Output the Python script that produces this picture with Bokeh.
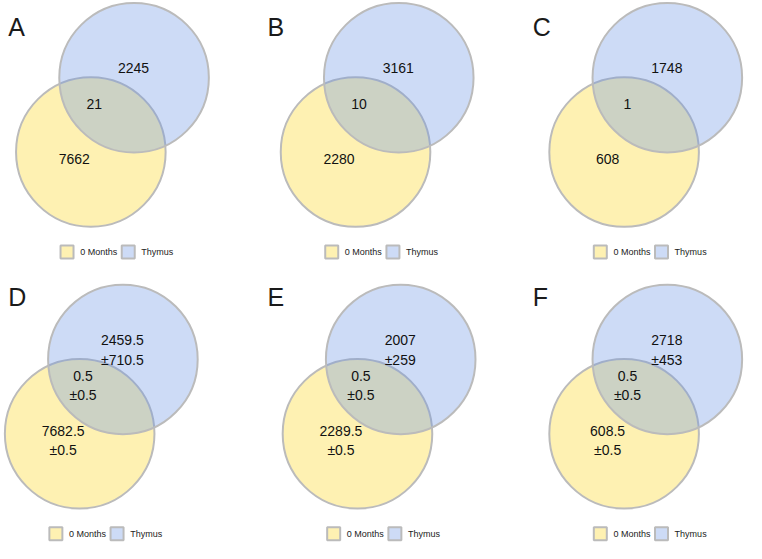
from bokeh.plotting import figure
from bokeh.models import Range1d
from bokeh.core.properties import value
from bokeh.embed import file_html
from bokeh.resources import INLINE

# ---- data ----
panel_letters = ["A", "B", "C", "D", "E", "F"]
set_names = ["0 Months", "Thymus"]
months_only = ["7662", "2280", "608", "7682.5", "2289.5", "608.5"]
months_only_sd = ["", "", "", "±0.5", "±0.5", "±0.5"]
both = ["21", "10", "1", "0.5", "0.5", "0.5"]
both_sd = ["", "", "", "±0.5", "±0.5", "±0.5"]
thymus_only = ["2245", "3161", "1748", "2459.5", "2007", "2718"]
thymus_only_sd = ["", "", "", "±710.5", "±259", "±453"]

# ---- layout (reference pixel space) ----
yc_x = [90, 362.5, 639, 78.5, 364.5, 639]
yc_y = [156, 156, 156, 446, 446, 446]
letter_x = [5, 272, 545, 5, 272, 545]
letter_base = [27, 27, 27, 305, 305, 305]
R = 77
DX, DY = 44.5, -76.5

W, H = 746, 543
p = figure(width=W, height=H, output_backend="svg", toolbar_location=None,
           x_range=Range1d(-3, 765), y_range=Range1d(559, 0),
           x_axis_location=None, y_axis_location=None, min_border=0,
           outline_line_color=None, background_fill_color="white")
p.grid.visible = False

FONT = value("Liberation Sans")
YELLOW = "#FEF1B2"
BLUE_SOLID = "#CDDBF6"
GREY = "#BBBBBB"

bx = [x + DX for x in yc_x]
by = [y + DY for y in yc_y]

p.circle(x=yc_x, y=yc_y, radius=R, fill_color=YELLOW, fill_alpha=1.0,
         line_color=GREY, line_width=2)
p.circle(x=bx, y=by, radius=R, fill_color="#7098E5", fill_alpha=0.35,
         line_color=GREY, line_width=2)

# region labels
tx, ty, tt = [], [], []
def add(label, sd, x, y):
    if sd:
        tx.extend([x, x]); ty.extend([y - 10, y + 10]); tt.extend([label, sd])
    else:
        tx.append(x); ty.append(y); tt.append(label)

for i in range(6):
    add(thymus_only[i], thymus_only_sd[i], yc_x[i] + 44, yc_y[i] - 86)
    add(both[i], both_sd[i], yc_x[i] + 3.5, yc_y[i] - 49.5)
    add(months_only[i], months_only_sd[i], yc_x[i] - 17, yc_y[i] + 7)

p.text(x=tx, y=ty, text=tt, text_align="center", text_baseline="middle",
       text_font=FONT, text_font_size="14px", text_color="#111111")

# panel letters
p.text(x=letter_x, y=letter_base, text=panel_letters, text_align="left",
       text_baseline="alphabetic", text_font=FONT, text_font_size="25px",
       text_color="#1a1a1a")

# legends
sq_x, sq_y, sq_c, lt_x, lt_y, lt_t = [], [], [], [], [], []
for i in range(6):
    ly = yc_y[i] + 103
    sq_x.extend([yc_x[i] - 24.5, yc_x[i] + 38.5])
    sq_y.extend([ly, ly])
    sq_c.extend([YELLOW, BLUE_SOLID])
    lt_x.extend([yc_x[i] - 11, yc_x[i] + 52])
    lt_y.extend([ly, ly])
    lt_t.extend(set_names)

p.rect(x=sq_x, y=sq_y, width=13, height=13, width_units="screen",
       height_units="screen", fill_color=sq_c, line_color=GREY, line_width=2)
p.text(x=lt_x, y=lt_y, text=lt_t, text_align="left", text_baseline="middle",
       text_font=FONT, text_font_size="9px", text_color="#222222")

open("out.html", "w").write(file_html(p, INLINE))
